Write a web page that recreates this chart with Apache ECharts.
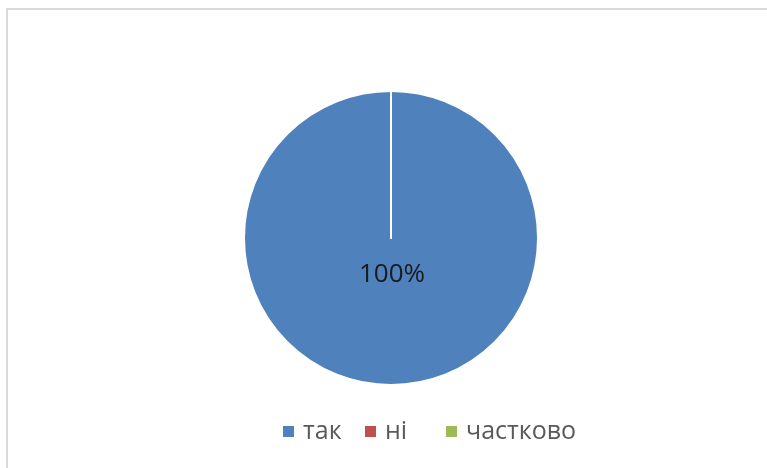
<!DOCTYPE html>
<html>
<head>
<meta charset="utf-8">
<script src="https://cdn.jsdelivr.net/npm/echarts@6/dist/echarts.min.js"></script>
<style>
  html, body { margin: 0; padding: 0; background: #fff; }
  #frame {
    position: absolute; left: 6px; top: 8px; width: 761px; height: 460px;
    border-top: 2px solid #d9d9d9; border-left: 2px solid #d9d9d9;
  }
  #main { position: absolute; left: 0; top: 0; width: 767px; height: 468px; }
</style>
</head>
<body>
<div id="frame"></div>
<div id="main"></div>
<script>
// categories and values (share of answers)
const categories = ['так', 'ні', 'частково']
const values = [100, 0, 0]
const colors = ['#4f81bd', '#c0504d', '#9bbb59']

// legend slots are evenly spaced, like in the original
const legendLeft = [276, 358, 439]

const chart = echarts.init(document.getElementById('main'), null, { renderer: 'canvas' })

const pieData = categories.map(function (name, i) {
  return {
    name: name,
    value: values[i],
    label: { show: values[i] > 0 }
  }
})

const legends = categories.map(function (name, i) {
  return {
    bottom: 19,
    left: legendLeft[i],
    icon: 'rect',
    itemWidth: 13,
    itemHeight: 13,
    textStyle: {
      fontFamily: 'Open Sans',
      fontSize: 25,
      color: '#595959',
      padding: [0, 0, 0, 3]
    },
    data: [name]
  }
})

const option = {
  color: colors,
  animation: false,
  textStyle: { fontFamily: 'Open Sans' },
  legend: legends,
  series: [
    {
      type: 'pie',
      center: [391, 238],
      radius: 147,
      startAngle: 90,
      clockwise: true,
      avoidLabelOverlap: false,
      itemStyle: {
        borderColor: '#fff',
        borderWidth: 2
      },
      label: {
        position: 'center',
        offset: [1, 37],
        fontFamily: 'Open Sans',
        fontSize: 26,
        color: '#1a1a1a',
        formatter: function (p) {
          return p.value + '%'
        }
      },
      labelLine: { show: false },
      emphasis: { disabled: true },
      data: pieData
    }
  ]
}

chart.setOption(option)
</script>
</body>
</html>
